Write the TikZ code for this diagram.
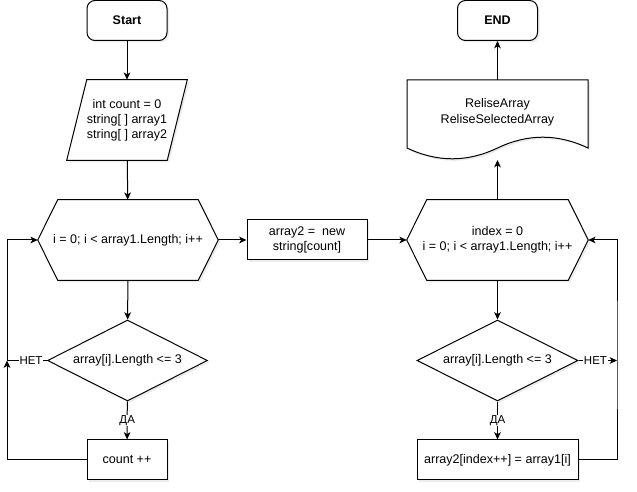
\documentclass[tikz,border=0pt]{standalone}
\usepackage{fontspec}
\setmainfont{Liberation Sans}
\usetikzlibrary{shapes.geometric,arrows.meta,shadows,calc}
\pgfdeclarelayer{bg}
\pgfsetlayers{bg,main}
\begin{document}
\begin{tikzpicture}[x=0.75pt,y=-0.75pt,
  every node/.style={font=\fontsize{9.4}{11.2}\selectfont},
  shp/.style={draw=black, line width=0.75pt, fill=white,
    drop shadow={shadow xshift=1.5pt, shadow yshift=-1.5pt, opacity=0.15}},
  term/.style={shp, rounded corners=6pt, minimum width=60pt, minimum height=30pt,
    inner sep=0pt, font=\fontsize{9.4}{11.2}\selectfont\bfseries},
  proc/.style={shp, minimum height=30pt, inner sep=0pt, align=center},
  frame/.style={inner sep=0pt, minimum height=60pt, align=center},
  dec/.style={shp, diamond, aspect=2, inner sep=0pt, minimum width=120pt, minimum height=60.75pt},
  flow/.style={line width=0.75pt, -{Stealth[length=5.5pt,width=5pt,inset=1.5pt]}},
  link/.style={line width=0.75pt},
  tag/.style={fill=white, inner sep=0.6pt, font=\fontsize{8.6}{10}\selectfont},
]
\useasboundingbox (0,0) rectangle (637,492);

% ---- left column: counting the short strings ----
\node[term] (start) at (127,20.5) {Start};
\node[frame, minimum width=90pt] (init) at (127,120)
  {int count = 0\\string[ ] array1\\string[ ] array2};
\node[frame, minimum width=135pt] (loop1) at (128,240) {i = 0; i < array1.Length; i++};
\node[dec] (cond1) at (127.5,360.5) {array[i].Length <= 3};
\node[proc, minimum width=60pt] (inc1) at (127,460) {count ++};

% ---- middle: allocation ----
\node[proc, minimum width=90pt] (alloc) at (307,240) {array2 =\ \ new\\string[count]};

% ---- right column: copying the short strings ----
\node[term] (finish) at (497.5,20.5) {END};
\node[frame, minimum width=135.75pt] (out) at (497.5,120)
  {\raisebox{14pt}{\shortstack{ReliseArray\\ReliseSelectedArray}}};
\node[frame, minimum width=135.75pt] (loop2) at (497.5,240)
  {index = 0\\i = 0; i < array1.Length; i++};
\node[dec, minimum width=120.75pt] (cond2) at (497.5,360.5) {array[i].Length <= 3};
\node[proc, minimum width=120.75pt] (copy) at (497.5,460) {array2[index++] = array1[i]};

% ---- outlines of the non-rectangular blocks ----
\begin{pgfonlayer}{bg}
  \path[shp] (init.south west) -- ([xshift=15pt]init.north west) -- (init.north east)
    -- ([xshift=-15pt]init.south east) -- cycle;
  \path[shp] (loop1.west) -- ([xshift=15pt]loop1.north west) -- ([xshift=-15pt]loop1.north east)
    -- (loop1.east) -- ([xshift=-15pt]loop1.south east) -- ([xshift=15pt]loop1.south west) -- cycle;
  \path[shp] (loop2.west) -- ([xshift=15pt]loop2.north west) -- ([xshift=-15pt]loop2.north east)
    -- (loop2.east) -- ([xshift=-15pt]loop2.south east) -- ([xshift=15pt]loop2.south west) -- cycle;
  \path[shp] (407,80) -- (588,80) -- (588,148)
    .. controls (557.83,133.6) and (527.67,133.6) .. (497.5,148)
    .. controls (467.33,162.4) and (437.17,162.4) .. (407,148) -- cycle;
\end{pgfonlayer}

% ---- connectors ----
\coordinate (outb) at (497.5,160);
\coordinate (jl) at (7,360.5);
\coordinate (jr) at (617,360.5);

\draw[flow] (start) -- (init);
\draw[flow] (init) -- (loop1);
\draw[flow] (loop1) -- (cond1);
\draw[flow] (cond1) -- node[tag, pos=0.5] {ДА} (inc1);
\draw[flow] (cond1.west) -- node[tag, pos=0.4] {НЕТ} (jl) |- (loop1.west);
\draw[flow] (inc1.west) -| (jl);
\draw[flow] (loop1.east) -- (alloc.west);
\draw[flow] (alloc.east) -- (loop2.west);
\draw[flow] (loop2) -- (cond2);
\draw[flow] (cond2) -- node[tag, pos=0.5] {ДА} (copy);
\draw[flow] (copy.east) -| (jr) |- (loop2.east);
\draw[flow] (cond2.east) -- node[tag, pos=0.44] {НЕТ} (jr);
\draw[flow] (loop2.north) -- (outb);
\draw[flow] (out.north) -- (finish.south);
\end{tikzpicture}
\end{document}
